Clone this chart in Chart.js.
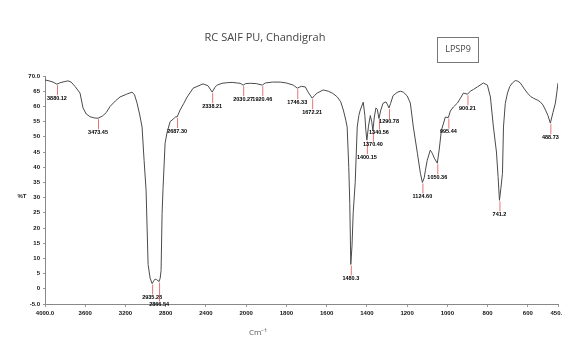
<!DOCTYPE html>
<html><head><meta charset="utf-8">
<script src="https://cdn.jsdelivr.net/npm/chart.js@4/dist/chart.umd.min.js"></script>
<style>html,body{margin:0;padding:0;background:#fff}#wrap{width:562px;height:341px}</style>
</head><body><div id="wrap"><canvas id="c" width="562" height="341"></canvas></div>
<script>
// ---- data (wavenumber in cm-1, %T) ----
const wavenumbers = [4000,3960,3920,3881,3850,3800,3771,3740,3700,3652,3622,3590,3552,3510,3473,3430,3390,3353,3300,3254,3190,3134,3110,3085,3060,3035,3015,2995,2985,2975,2955,2935,2915,2905,2890,2866,2855,2846,2836,2826,2806,2786,2756,2726,2700,2687,2657,2620,2587,2527,2458,2428,2380,2338,2310,2289,2240,2189,2140,2090,2060,2030,2005,1980,1950,1920,1905,1870,1831,1800,1766,1746,1726,1706,1692,1672,1660,1647,1617,1592,1570,1547,1530,1517,1505,1498,1490,1485,1480,1474,1468,1458,1448,1440,1433,1418,1410,1405,1400,1392,1383,1376,1370,1363,1355,1348,1340,1332,1320,1305,1297,1290,1282,1270,1250,1234,1219,1200,1184,1169,1149,1134,1124,1115,1109,1100,1085,1075,1065,1050,1040,1030,1010,995,985,970,950,935,920,900,886,870,851,821,801,786,771,756,748,741,734,726,721,712,701,690,677,662,650,637,620,602,585,572,550,537,525,512,500,488,475,463,455,450];
const transmittance = [68.7,68.4,68.0,67.3,67.8,68.2,68.4,68.0,66.5,64.4,59.5,57.5,56.6,56.2,56.1,56.8,58.0,60.0,61.8,63.1,64.0,64.7,63.8,61.1,57.5,53.2,42.3,32.4,20.0,8.0,3.5,1.7,2.8,3.2,3.0,2.4,3.5,6.0,24.8,33.4,47.9,51.5,55.0,55.8,56.6,56.5,58.8,61.0,63.1,66.0,67.0,67.4,66.8,64.7,66.3,67.0,67.6,67.8,67.9,67.7,67.6,67.0,67.5,67.6,67.5,67.0,67.7,68.0,68.0,67.7,67.0,66.0,66.6,66.4,64.7,62.7,63.6,64.4,65.4,65.0,64.3,63.1,61.5,58.8,55.5,53.2,40.0,28.0,8.0,14.0,25.0,35.0,53.2,57.0,58.8,61.4,57.0,52.0,48.9,53.5,57.0,55.0,52.0,56.5,59.5,59.0,56.0,58.5,61.0,61.5,60.5,59.5,61.0,63.5,64.6,65.0,64.7,63.5,61.1,53.2,44.6,38.0,35.0,36.5,39.0,42.3,45.6,44.6,43.0,41.3,46.0,52.0,56.5,56.3,58.5,59.8,61.1,62.7,64.4,64.0,65.0,65.6,66.4,67.7,67.0,63.1,53.2,45.0,37.0,29.1,33.0,38.0,53.2,61.0,64.4,66.5,67.7,68.5,68.3,67.7,66.0,64.4,63.2,62.7,62.0,61.4,60.5,58.8,57.0,54.5,58.0,61.1,65.0,67.7];
const peakWavenumbers = [3881,3473,2935,2866,2687,2338,2030,1920,1746,1672,1480,1400,1370,1340,1290,1124,1050,995,900,741,488];
const peakLabels = ['3880.12','3473.45','2935.28','2866.54','2687.30','2338.21','2030.27','1920.46','1746.33','1672.21','1480.3','1400.15','1370.40','1340.56','1290.78','1124.60','1050.36','995.44','900.21','741.2','488.73'];
const xTickValues = [4000,3600,3200,2800,2400,2000,1800,1600,1400,1200,1000,800,600,450];
const xTickLabels = ['4000.0','3600','3200','2800','2400','2000','1800','1600','1400','1200','1000','800','600','450.0'];
const yTickValues = [-5,0,5,10,15,20,25,30,35,40,45,50,55,60,65,70];
const yTickLabels = ['-5.0','0','5','10','15','20','25','30','35','40','45','50','55','60','65','70.0'];
const titleText = 'RC SAIF PU, Chandigrah';
const sampleText = 'LPSP9';
const yTitle = '%T';
const xTitle = 'Cm\u207B\u00B9';

// piecewise wavenumber axis (4000-2000 at half scale)
function toAxis(w){ return w >= 2000 ? (4000 - w) / 400 : 5 + (2000 - w) / 200; }

const points = wavenumbers.map((w,i)=>({x: toAxis(w), y: transmittance[i]}));
const labelOffsets = {2866: 23, 1400: 17};

const FONT = '"Liberation Sans", Arial, sans-serif';

const decor = {
  id: 'decor',
  afterDatasetsDraw(chart){
    const ctx = chart.ctx, xs = chart.scales.x, ys = chart.scales.y;
    ctx.save();
    peakWavenumbers.forEach((w,k)=>{
      const i = wavenumbers.indexOf(w);
      const px = xs.getPixelForValue(toAxis(w));
      const py = ys.getPixelForValue(transmittance[i]);
      const off = labelOffsets[w] || 14;
      ctx.strokeStyle = '#e05050';
      ctx.lineWidth = 0.8;
      ctx.beginPath(); ctx.moveTo(px+0.5, py+1); ctx.lineTo(px+0.5, py+off-3); ctx.stroke();
      ctx.fillStyle = '#000';
      ctx.font = 'bold 5.5px ' + FONT;
      ctx.textAlign = 'center'; ctx.textBaseline = 'middle';
      ctx.fillText(peakLabels[k], px, py+off);
    });
    ctx.restore();
  },
  afterDraw(chart){
    const ctx = chart.ctx;
    ctx.save();
    ctx.fillStyle = '#444';
    ctx.font = '11px "Open Sans", ' + FONT;
    ctx.textAlign = 'center'; ctx.textBaseline = 'middle';
    ctx.fillText(titleText, 265, 38);
    ctx.strokeStyle = '#777'; ctx.lineWidth = 1;
    ctx.strokeRect(437.5, 37.5, 41, 25);
    ctx.font = '9px "Open Sans", ' + FONT;
    ctx.fillText(sampleText, 458, 49);
    ctx.fillStyle = '#222';
    ctx.font = 'bold 6px ' + FONT;
    ctx.fillText(yTitle, 22, 196);
    ctx.fillStyle = '#555';
    ctx.font = '8px "Open Sans", ' + FONT;
    ctx.fillText(xTitle, 258, 333);
    ctx.restore();
  }
};

new Chart(document.getElementById('c'), {
  type: 'line',
  data: { datasets: [{ data: points, borderColor: '#4a4a4a', borderWidth: 1, pointRadius: 0, tension: 0, fill: false }] },
  options: {
    responsive: false, devicePixelRatio: 1, animation: false,
    layout: { padding: { top: 76, right: 4, left: 0, bottom: 0 } },
    plugins: { legend: { display: false }, tooltip: { enabled: false }, title: { display: false } },
    scales: {
      x: {
        type: 'linear', min: 0, max: toAxis(450),
        afterBuildTicks: s => { s.ticks = xTickValues.map(w => ({ value: toAxis(w) })); },
        afterFit: s => { s.height = 37; s.paddingLeft = 0; s.paddingRight = 0; },
        ticks: { callback: (v, i) => xTickLabels[i], autoSkip: false, maxRotation: 0, minRotation: 0, padding: 3, color: '#111', font: { size: 6, weight: 'bold', family: FONT } },
        grid: { drawOnChartArea: false, tickLength: 3, color: '#999' },
        border: { color: '#888', width: 1 }
      },
      y: {
        min: -5, max: 70,
        afterBuildTicks: s => { s.ticks = yTickValues.map(v => ({ value: v })); },
        afterFit: s => { s.width = 45; s.paddingTop = 0; s.paddingBottom = 0; },
        ticks: { callback: (v, i) => yTickLabels[i], autoSkip: false, padding: 3, color: '#111', font: { size: 6, weight: 'bold', family: FONT } },
        grid: { drawOnChartArea: false, tickLength: 2, color: '#999' },
        border: { color: '#888', width: 1 }
      }
    }
  },
  plugins: [decor]
});
</script></body></html>
